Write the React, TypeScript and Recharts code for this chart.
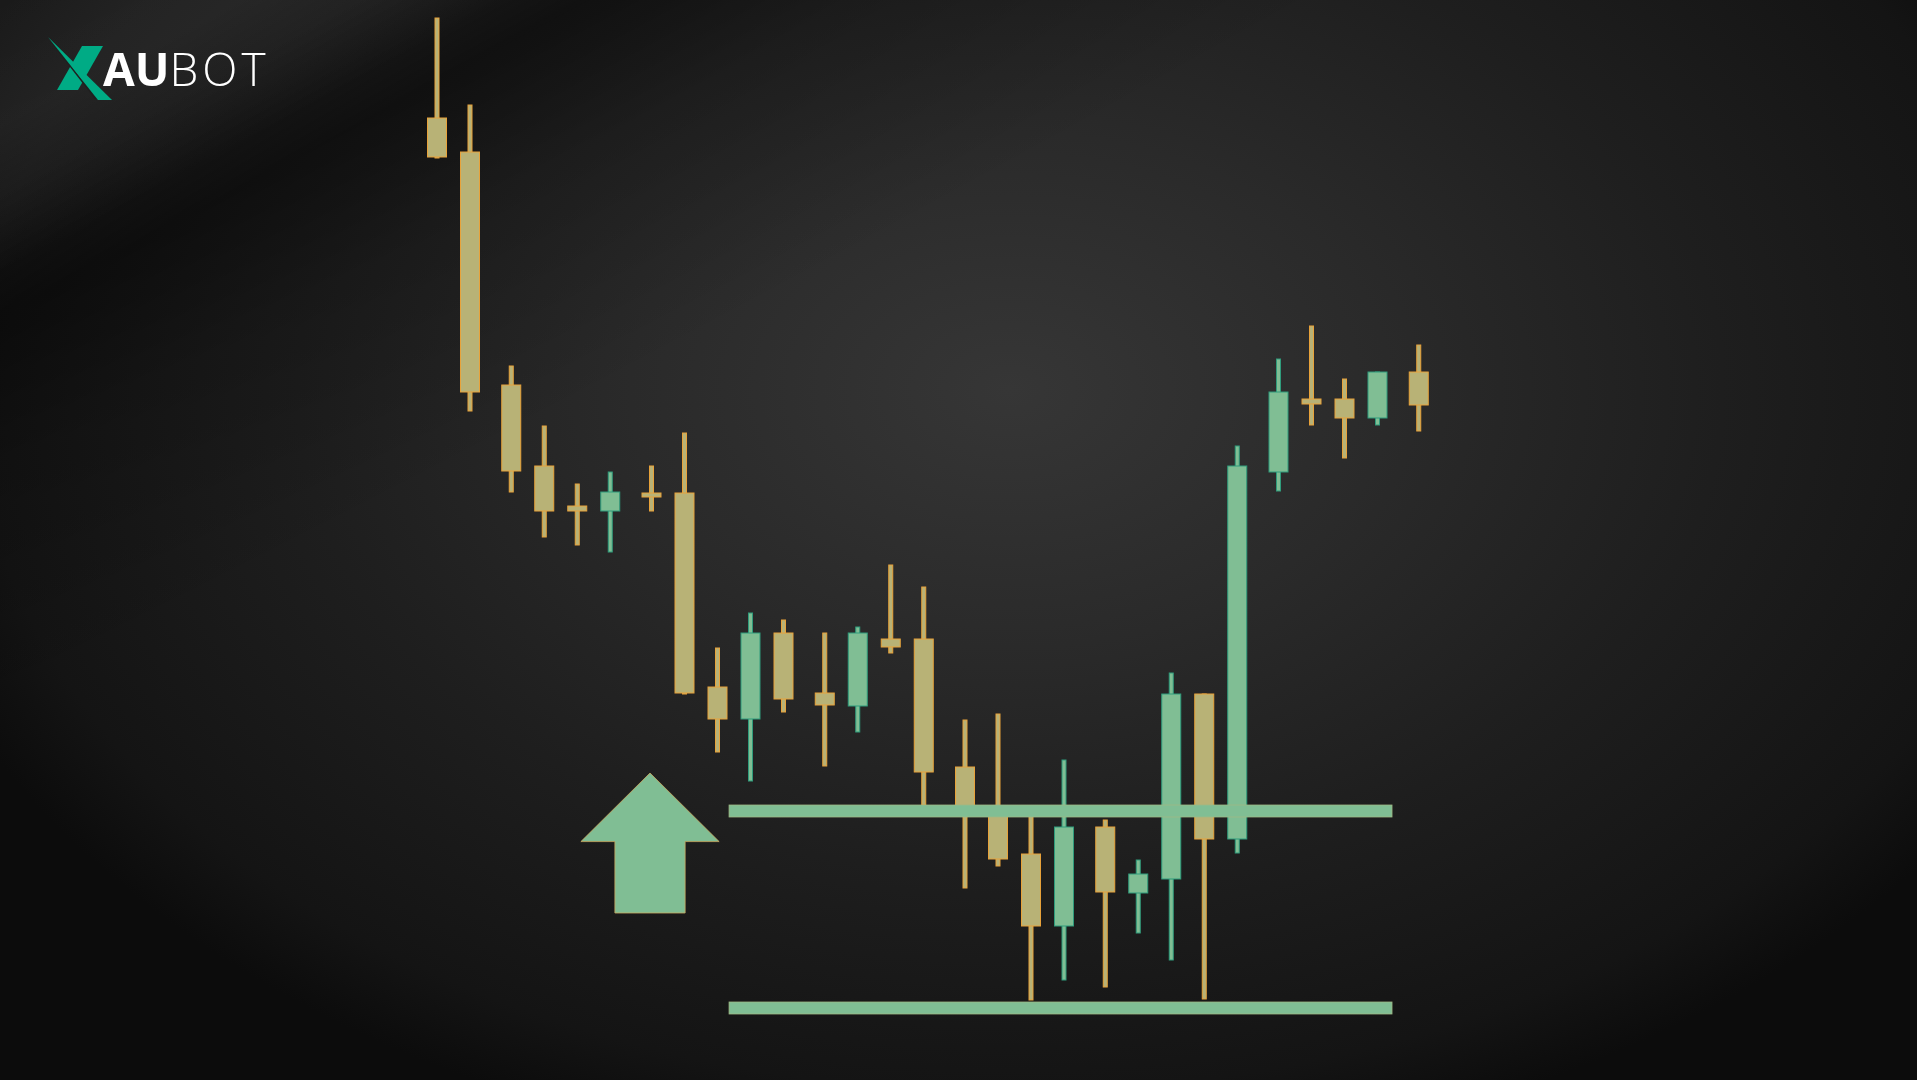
import React from 'react';
import { ComposedChart, Bar, XAxis, YAxis, ReferenceArea } from 'recharts';

const W = 1917;
const H = 1080;

// candle time slots (session gaps show as quarter-step jumps)
const slots = [0, 1, 2.25, 3.25, 4.25, 5.25, 6.5, 7.5, 8.5, 9.5, 10.5, 11.75, 12.75, 13.75, 14.75, 16, 17, 18, 19, 20.25, 21.25, 22.25, 23.25, 24.25, 25.5, 26.5, 27.5, 28.5, 29.75];
const opens = [96.2, 92.8, 69.5, 61.4, 57.4, 56.9, 58.7, 58.7, 39.3, 36.1, 44.7, 38.7, 37.4, 44.1, 44.1, 31.3, 26.8, 22.6, 15.4, 25.3, 18.7, 20.1, 38.6, 24.1, 60.8, 68.1, 68.1, 66.2, 70.8];
const highs = [106.2, 97.5, 71.4, 65.4, 59.6, 60.8, 61.4, 64.7, 43.2, 46.7, 46.0, 44.7, 45.3, 51.5, 49.3, 36.0, 36.6, 26.8, 32.0, 26.0, 22.0, 40.7, 38.6, 63.4, 72.1, 75.4, 70.1, 70.8, 73.5];
const lows = [92.2, 66.9, 58.8, 54.3, 53.5, 52.8, 56.9, 38.6, 32.8, 29.9, 36.8, 31.4, 34.8, 42.7, 27.5, 19.2, 21.4, 8.0, 10.0, 9.3, 14.7, 12.0, 8.1, 22.7, 58.9, 65.5, 62.2, 65.5, 64.9];
const closes = [92.3, 68.8, 60.9, 56.9, 56.9, 58.8, 58.3, 38.7, 36.1, 44.7, 38.1, 37.5, 44.7, 43.3, 30.8, 27.2, 22.1, 15.4, 25.3, 18.8, 20.6, 38.6, 24.1, 61.4, 68.8, 67.6, 66.2, 70.8, 67.5];

// support zone levels [bottom, top] and their slot span
const upperLevel = [26.3, 27.5];
const lowerLevel = [6.6, 7.8];
const levelSpan = [8.85, 28.94];
// arrow box [slotFrom, slotTo], [low, high]
const arrowSlots = [4.36, 8.55];
const arrowRange = [16.7, 30.7];

const data = slots.map((t, i) => ({
  t,
  o: opens[i],
  h: highs[i],
  l: lows[i],
  c: closes[i],
  range: [lows[i], highs[i]],
}));

const GREEN = '#80be94';
const GREEN_EDGE = '#2f9c7c';
const KHAKI = '#b8b276';
const ORANGE = '#e8a23a';

const Candle = (props: any) => {
  const { x, y, width, height, payload } = props;
  if (!payload) return null;
  const { o, h, l, c } = payload;
  const top0 = Math.min(y, y + height);
  const hh = Math.abs(height);
  const cx = x + width / 2;
  const ppu = hh / (h - l);
  const yOf = (v: number) => top0 + (h - v) * ppu;
  const bull = c > o;
  const bTop = yOf(Math.max(o, c));
  const bBot = yOf(Math.min(o, c));
  const fill = bull ? GREEN : KHAKI;
  const edge = bull ? GREEN_EDGE : ORANGE;
  const bw = 19;
  return (
    <g>
      <rect x={cx - 2} y={top0} width={4} height={hh} fill={fill} stroke={edge} strokeWidth={1} />
      <rect x={cx - bw / 2} y={bTop} width={bw} height={Math.max(bBot - bTop, 3.5)} fill={fill} stroke={edge} strokeWidth={1} />
    </g>
  );
};

const Arrow = (props: any) => {
  const { x, y, width, height } = props;
  const headY = y + height * 0.49;
  const s1 = x + width * 0.246;
  const s2 = x + width * 0.754;
  const pts = [
    [x + width / 2, y],
    [x + width, headY],
    [s2, headY],
    [s2, y + height],
    [s1, y + height],
    [s1, headY],
    [x, headY],
  ]
    .map((p) => p.join(','))
    .join(' ');
  return <polygon points={pts} fill={GREEN} stroke="#c9a860" strokeWidth={0.8} />;
};

const Level = (props: any) => {
  const { x, y, width, height } = props;
  return <rect x={x} y={y} width={width} height={height} fill={GREEN} stroke="#9fb884" strokeWidth={0.8} />;
};

const Logo = () => (
  <svg width={320} height={120} style={{ position: 'absolute', left: 0, top: 0 }}>
    <polygon points="82,46 103,46 78,90 57,90" fill="#00ab85" />
    <line x1={58} y1={50} x2={96} y2={99} stroke="#1f1f1f" strokeWidth={2} />
    <polygon points="48,37 112,100 98,100" fill="#00ab85" />
    <text x={103} y={86} fill="#ffffff" fontFamily="'Open Sans', sans-serif" fontSize={46}>
      <tspan fontWeight={700}>AU</tspan>
      <tspan fontWeight={300} letterSpacing={4}>BOT</tspan>
    </text>
  </svg>
);

export default function App() {
  return (
    <div
      style={{
        position: 'fixed',
        left: 0,
        top: 0,
        width: W,
        height: H,
        overflow: 'hidden',
        background:
          'linear-gradient(151.7deg, rgba(255,255,255,0.06) 0%, rgba(255,255,255,0.07) 6%, rgba(255,255,255,0.03) 10%, rgba(255,255,255,0) 13%),' +
          'linear-gradient(151.7deg, rgba(0,0,0,0) 9%, rgba(0,0,0,0.45) 15%, rgba(0,0,0,0.2) 22%, rgba(0,0,0,0) 34%),' +
          'radial-gradient(ellipse 1150px 780px at 1010px 390px, #363636 0%, #2a2a2a 33%, #1e1e1e 62%, #141414 90%, #0c0c0c 100%)',
      }}
    >
      <Logo />
      <div style={{ position: 'absolute', left: 0, top: 0 }}>
        <ComposedChart width={W} height={H} data={data} margin={{ top: 0, right: 465.25, bottom: 0, left: 404 }}>
          <XAxis dataKey="t" type="number" domain={[-1, 30.75]} hide allowDataOverflow />
          <YAxis type="number" domain={[0, 108]} hide allowDataOverflow />
          <Bar dataKey="range" barSize={19} shape={<Candle />} isAnimationActive={false} />
          <ReferenceArea
            x1={levelSpan[0]}
            x2={levelSpan[1]}
            y1={upperLevel[0]}
            y2={upperLevel[1]}
            shape={<Level />}
            zIndex={1000}
          />
          <ReferenceArea
            x1={levelSpan[0]}
            x2={levelSpan[1]}
            y1={lowerLevel[0]}
            y2={lowerLevel[1]}
            shape={<Level />}
            zIndex={1000}
          />
          <ReferenceArea
            x1={arrowSlots[0]}
            x2={arrowSlots[1]}
            y1={arrowRange[0]}
            y2={arrowRange[1]}
            shape={<Arrow />}
            zIndex={1000}
          />
        </ComposedChart>
      </div>
    </div>
  );
}
